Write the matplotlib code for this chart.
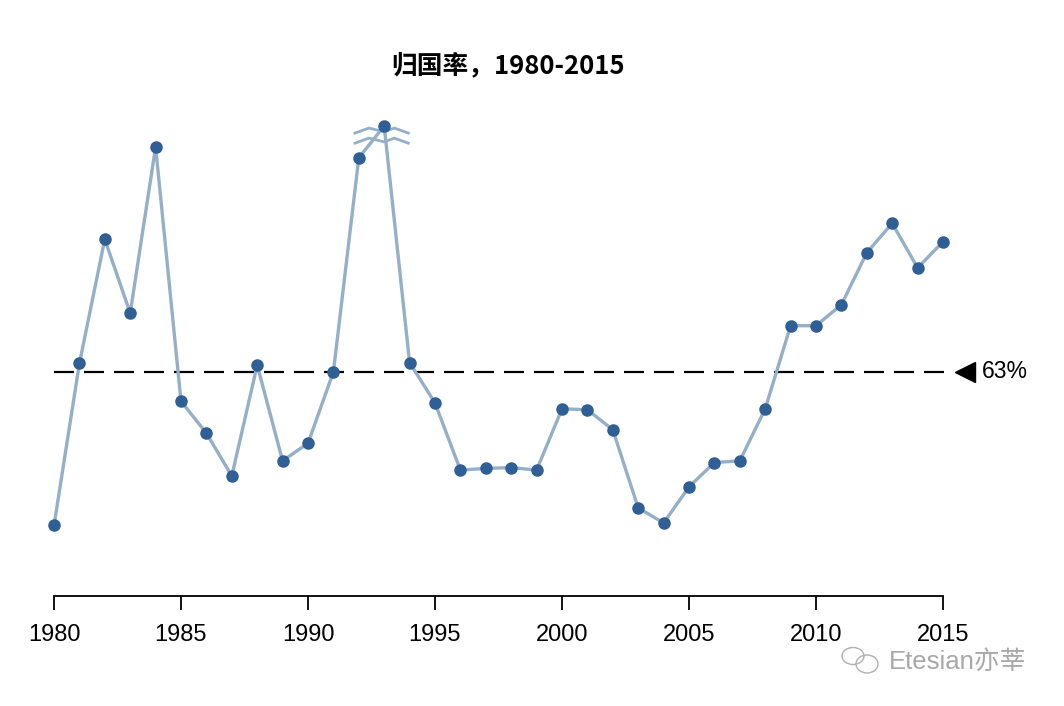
import matplotlib
matplotlib.use("Agg")
import matplotlib.pyplot as plt
from matplotlib.patches import Ellipse

plt.rcParams['font.family'] = ['Liberation Sans', 'Noto Sans CJK SC', 'DejaVu Sans']

# 归国率 (%); 1993 is drawn at its broken-axis position
years = list(range(1980, 2016))
rates = [44.7, 64.0, 78.8, 70.0, 89.8, 59.5, 55.7, 50.6, 63.8, 52.4,
         54.5, 63.0, 88.5, 92.3, 64.1, 59.3, 51.3, 51.5, 51.6, 51.3,
         58.6, 58.5, 56.1, 46.8, 45.0, 49.3, 52.2, 52.4, 58.6, 68.5,
         68.5, 71.0, 77.2, 80.7, 75.4, 78.5]
avg_rate = 63
break_year = 1993
xticks = [1980, 1985, 1990, 1995, 2000, 2005, 2010, 2015]

line_col = '#94afc8'
dot_col = '#2f5f95'

fig = plt.figure(figsize=(10.64, 7.06), dpi=100)
ax = fig.add_axes([54 / 1064, 110 / 706, (943 - 54) / 1064, 486 / 706])

ax.plot(years, rates, color=line_col, lw=2.4, zorder=2, clip_on=False)
ax.plot(years, rates, 'o', color=dot_col, ms=8, zorder=3, clip_on=False)

# average line + marker
ax.plot([years[0], years[-1] + 0.2], [avg_rate, avg_rate], color='black',
        lw=1.6, dashes=(9, 4.5), zorder=1, clip_on=False)
ax.plot([years[-1] + 0.85], [avg_rate], marker='<', color='black', ms=15,
        clip_on=False)
ax.text(years[-1] + 1.55, avg_rate, f'{avg_rate}%', fontsize=16.5,
        va='center', ha='left')

# axis break marks around 1993
i = years.index(break_year)
for off in (-0.5, -1.7):
    bx = [break_year - 1.15, break_year - 0.6, break_year, break_year + 0.4, break_year + 0.95]
    by = [rates[i] + off - 0.35, rates[i] + off + 0.25, rates[i] + off - 0.2,
          rates[i] + off + 0.25, rates[i] + off - 0.35]
    ax.plot(bx, by, color=line_col, lw=2, zorder=2.5, clip_on=False)

ax.set_xlim(1980, 2015)
ax.set_ylim(36.3, 94.2)
ax.set_xticks(xticks)
ax.set_xticklabels([str(t) for t in xticks], fontsize=17)
ax.tick_params(axis='x', direction='out', length=10, width=1.3, pad=10)
ax.set_yticks([])
for s in ('left', 'right', 'top'):
    ax.spines[s].set_visible(False)
ax.spines['bottom'].set_linewidth(1.3)
ax.set_facecolor('none')

fig.text(508 / 1064, 1 - 66 / 706, '归国率，1980-2015', fontsize=18.5,
         fontweight='bold', family=['Noto Sans CJK SC'], ha='center', va='center')

# watermark
fig.patches.append(Ellipse((853 / 1064, 1 - 656 / 706), 22 / 1064, 17 / 706,
                           transform=fig.transFigure, fill=False, ec='#b0b0b0', lw=1))
fig.patches.append(Ellipse((867 / 1064, 1 - 664 / 706), 22 / 1064, 18 / 706,
                           transform=fig.transFigure, fill=False, ec='#b0b0b0', lw=1))
fig.text(889 / 1064, 1 - 662 / 706, 'Etesian亦莘', fontsize=18.5, color='#a8a8a8',
         ha='left', va='center', family=['Liberation Sans', 'Noto Sans CJK SC'])

fig.savefig('out.png', dpi=100, facecolor='white')
